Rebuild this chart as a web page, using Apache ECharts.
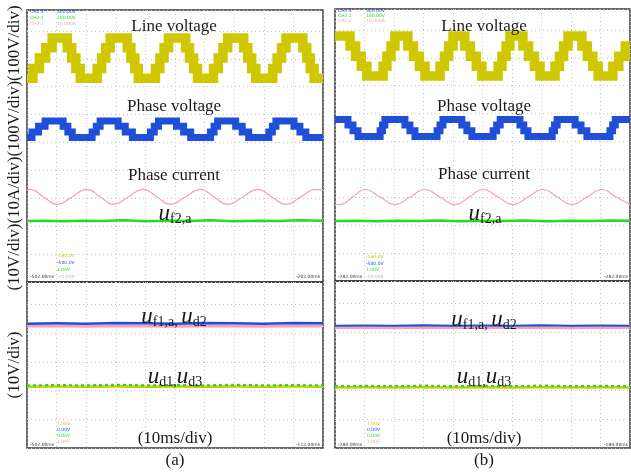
<!DOCTYPE html>
<html><head><meta charset="utf-8">
<script src="https://cdn.jsdelivr.net/npm/echarts@6/dist/echarts.min.js"></script>
<style>html,body{margin:0;padding:0;background:#fff}#c{width:631px;height:472px}</style>
</head><body><div id="c"></div>
<script>
// ---- axes (time in ms, 10 ms/div; vertical in scope divisions) ----
const timeMin = 0, timeMax = 100, timeDiv = 10;
const upperDivs = 9.75, lowerDivs = 5.78;

// ---- panel (a) traces: [time ms, divisions] ----
const lineVoltageA = [[0,7.3],[2.0,7.65],[4.2,8.03],[6.3,8.4],[8.5,8.75],[13.6,8.4],[15.1,8.03],[16.5,7.65],[18,7.3],[23.7,7.65],[25.2,8.03],[26.6,8.4],[28.1,8.75],[33.9,8.4],[35.1,8.03],[36.4,7.65],[37.6,7.3],[43.4,7.65],[44.9,8.03],[46.3,8.4],[47.8,8.75],[53.6,8.4],[54.9,8.03],[56.3,7.65],[57.6,7.3],[63,7.65],[64.6,8.03],[66.2,8.4],[67.8,8.75],[73.2,8.4],[74.6,8.03],[75.9,7.65],[77.3,7.3],[83,7.65],[84.5,8.03],[86,8.4],[87.5,8.75],[93.2,8.4],[94.5,8.03],[95.7,7.65],[97,7.3],[100,7.3]];
const phaseVoltageA = [[0,5.18],[1.7,5.38],[3.9,5.58],[6.1,5.77],[12.2,5.58],[13.8,5.38],[15.3,5.18],[22,5.38],[23.4,5.58],[24.7,5.77],[30.8,5.58],[33.2,5.38],[35.6,5.18],[41.7,5.38],[43,5.58],[44.4,5.77],[50.5,5.58],[52.9,5.38],[55.3,5.18],[62,5.38],[63.2,5.58],[64.4,5.77],[70.5,5.58],[72.7,5.38],[74.9,5.18],[81.7,5.38],[82.9,5.58],[84.1,5.77],[90.2,5.58],[92.2,5.38],[94.2,5.18],[100,5.18]];
const phaseCurrentA = [[0,3.30],[1.0,3.32],[5.6,3.05],[10.2,2.78],[15.2,3.05],[20.3,3.32],[24.8,3.05],[29.2,2.78],[34.2,3.05],[39.3,3.32],[43.9,3.05],[48.5,2.78],[53.5,3.05],[58.6,3.32],[63.2,3.05],[67.8,2.78],[72.9,3.05],[78.0,3.32],[82.7,3.05],[87.5,2.78],[92.5,3.05],[97.6,3.32],[100,3.30]];
const uf2A = [[0,2.19],[6,2.2],[12,2.18],[19,2.2],[25,2.19],[33,2.21],[40,2.18],[48,2.2],[55,2.19],[62,2.21],[70,2.18],[78,2.2],[85,2.19],[92,2.21],[100,2.2]];
const uf1A = [[0,4.33],[10,4.34],[20,4.33],[30,4.35],[40,4.34],[50,4.33],[60,4.35],[70,4.34],[80,4.33],[90,4.35],[100,4.34]];
const ud2A = [[0,4.25],[10,4.26],[20,4.24],[30,4.26],[40,4.25],[50,4.24],[60,4.26],[70,4.25],[80,4.24],[90,4.26],[100,4.25]];
const ud1A = [[0,2.18],[10,2.19],[20,2.18],[30,2.2],[40,2.18],[50,2.19],[60,2.18],[70,2.2],[80,2.18],[90,2.19],[100,2.18]];
const ud3A = [[0,2.13],[10,2.14],[20,2.13],[30,2.14],[40,2.13],[50,2.14],[60,2.13],[70,2.14],[80,2.13],[90,2.14],[100,2.13]];

// ---- panel (b) traces ----
const lineVoltageB = [[0,8.78],[5.1,8.42],[7.0,8.06],[8.9,7.7],[10.8,7.35],[16.3,7.7],[17.6,8.06],[19.0,8.42],[20.3,8.78],[24.7,8.42],[26.6,8.06],[28.6,7.7],[30.5,7.35],[35.6,7.7],[37.1,8.06],[38.5,8.42],[40,8.78],[44,8.42],[45.9,8.06],[47.9,7.7],[49.8,7.35],[55.3,7.7],[56.6,8.06],[58,8.42],[59.3,8.78],[63.7,8.42],[65.6,8.06],[67.6,7.7],[69.5,7.35],[74.6,7.7],[76.1,8.06],[77.5,8.42],[79,8.78],[83.7,8.42],[85.5,8.06],[87.4,7.7],[89.2,7.35],[94.2,7.7],[96.2,8.06],[98.4,8.42],[100,8.42]];
const phaseVoltageB = [[0,5.79],[4.4,5.59],[6.1,5.39],[7.8,5.18],[15.3,5.39],[16.1,5.59],[16.9,5.79],[23.7,5.59],[25.4,5.39],[27.1,5.18],[34.6,5.39],[35.6,5.59],[36.6,5.79],[43,5.59],[44.7,5.39],[46.4,5.18],[53.6,5.39],[54.8,5.59],[56,5.79],[62.7,5.59],[64,5.39],[65.4,5.18],[73.6,5.39],[74.4,5.59],[75.3,5.79],[81.4,5.59],[83.4,5.39],[85.4,5.18],[93.2,5.39],[94.1,5.59],[95,5.79],[100,5.79]];
const phaseCurrentB = [[0,2.76],[1.7,2.74],[6.0,3.01],[10.2,3.28],[15.3,3.01],[20.3,2.74],[25.4,3.01],[30.5,3.28],[35.6,3.01],[40.7,2.74],[45.5,3.01],[50.2,3.28],[55.3,3.01],[60.3,2.74],[65.4,3.01],[70.5,3.28],[75.4,3.01],[80.3,2.74],[85.4,3.01],[90.5,3.28],[95.3,3.01],[100,2.74]];
const uf2B = [[0,2.15],[7,2.16],[14,2.14],[21,2.16],[28,2.15],[35,2.17],[42,2.14],[50,2.16],[57,2.15],[64,2.17],[72,2.14],[80,2.16],[87,2.15],[94,2.17],[100,2.16]];
const uf1B = [[0,4.23],[10,4.24],[20,4.23],[30,4.25],[40,4.23],[50,4.24],[60,4.23],[70,4.25],[80,4.23],[90,4.24],[100,4.23]];
const ud2B = [[0,4.17],[10,4.18],[20,4.16],[30,4.18],[40,4.17],[50,4.16],[60,4.18],[70,4.17],[80,4.16],[90,4.18],[100,4.17]];
const ud1B = [[0,2.14],[10,2.15],[20,2.14],[30,2.16],[40,2.14],[50,2.15],[60,2.14],[70,2.16],[80,2.14],[90,2.15],[100,2.14]];
const ud3B = [[0,2.09],[10,2.1],[20,2.09],[30,2.1],[40,2.09],[50,2.1],[60,2.09],[70,2.1],[80,2.09],[90,2.1],[100,2.09]];

// ---- text ----
const upperAxisName = '(10V/div)(10A/div)(100V/div)(100V/div)';
const lowerAxisName = '(10V/div)';
const traceTitles = ['Line voltage', 'Phase voltage', 'Phase current'];
const timeScaleText = '(10ms/div)';
const panelNames = ['(a)', '(b)'];

// ---- styling ----
const YEL = '#cfc800', BLU = '#1f4fd8', PNK = '#f2a3b8', GRN = '#22dd22';
const SERIF = '"Liberation Serif","Times New Roman",serif';

const chart = echarts.init(document.getElementById('c'), null, {renderer: 'canvas'});

const grids = [
  {left: 27, top: 10, width: 296, height: 272},
  {left: 27, top: 282, width: 296, height: 166},
  {left: 335, top: 9, width: 295, height: 272},
  {left: 335, top: 281, width: 295, height: 167}
].map(g => Object.assign(g, {show: true, borderColor: '#3a3a3a', borderWidth: 1.5, backgroundColor: 'transparent'}));

const split = {show: true, lineStyle: {color: '#c4c4c4', type: [1, 3], width: 1}};
const xAxes = [0,1,2,3].map(i => ({gridIndex: i, type: 'value', min: timeMin, max: timeMax, interval: timeDiv,
  axisLine: {show: false}, axisTick: {show: false}, axisLabel: {show: false}, splitLine: split}));
const yAxes = [0,1,2,3].map(i => ({gridIndex: i, type: 'value', min: 0, max: (i % 2 === 0) ? upperDivs : lowerDivs, interval: 1,
  axisLine: {show: false}, axisTick: {show: false}, axisLabel: {show: false}, splitLine: split}));

function ser(g, data, color, width, opts, ls) {
  return Object.assign({type: 'line', xAxisIndex: g, yAxisIndex: g, data: data, symbol: 'none', showSymbol: false,
    silent: true, animation: false, lineStyle: Object.assign({color: color, width: width, join: 'miter', cap: 'butt'}, ls || {})}, opts || {});
}
const series = [
  ser(0, lineVoltageA, YEL, 9.5, {step: 'end'}),
  ser(0, phaseVoltageA, BLU, 7, {step: 'end'}),
  ser(0, phaseCurrentA, PNK, 1.2, {smooth: true}),
  ser(0, uf2A, GRN, 2.5),
  ser(1, ud2A, PNK, 3),
  ser(1, uf1A, BLU, 2.5),
  ser(1, ud3A, YEL, 2.5),
  ser(1, ud1A, GRN, 2.2, null, {type: [3, 3]}),
  ser(2, lineVoltageB, YEL, 9.5, {step: 'end'}),
  ser(2, phaseVoltageB, BLU, 7, {step: 'end'}),
  ser(2, phaseCurrentB, PNK, 1.2, {smooth: true}),
  ser(2, uf2B, GRN, 2.5),
  ser(3, ud2B, PNK, 3),
  ser(3, uf1B, BLU, 2),
  ser(3, ud3B, YEL, 2.5),
  ser(3, ud1B, GRN, 2.2, null, {type: [3, 3]})
];

function txt(x, y, text, size, color, extra) {
  return Object.assign({type: 'text', x: x, y: y, z: 100, silent: true,
    style: {text: text, fontSize: size, fontFamily: SERIF, fill: color || '#1a1a1a', align: 'center', verticalAlign: 'middle'}}, extra || {});
}
function sub(x, y, text) {
  return {type: 'text', x: x, y: y, z: 100, silent: true, style: {text: text, align: 'center', verticalAlign: 'middle',
    rich: {
      u: {fontSize: 23, fontFamily: SERIF, fontStyle: 'italic', fill: '#1a1a1a', lineHeight: 24, verticalAlign: 'middle'},
      s: {fontSize: 14, fontFamily: SERIF, fill: '#1a1a1a', lineHeight: 13, verticalAlign: 'bottom'}
    }}};
}
function tiny(x, y, text, color, align) {
  return {type: 'text', x: x, y: y, z: 100, silent: true,
    style: {text: text, fontSize: 4.5, fontFamily: 'DejaVu Sans', fill: color, align: align || 'left', verticalAlign: 'middle'}};
}

const graphic = [
  txt(15, 148, upperAxisName, 17, '#1a1a1a', {rotation: Math.PI / 2}),
  txt(15, 365, lowerAxisName, 17, '#1a1a1a', {rotation: Math.PI / 2}),
  // panel (a)
  txt(174, 27, traceTitles[0], 17), txt(174, 107, traceTitles[1], 17), txt(174, 176, traceTitles[2], 17),
  sub(175, 214, '{u|u}{s|f2,a}'),
  sub(174, 317, '{u|u}{s|f1,a, }{u|u}{s|d2}'),
  sub(175, 377, '{u|u}{s|d1,}{u|u}{s|d3}'),
  txt(175, 439, timeScaleText, 17), txt(175, 461, panelNames[0], 17),
  // panel (b)
  txt(484, 27, traceTitles[0], 17), txt(484, 107, traceTitles[1], 17), txt(484, 175, traceTitles[2], 17),
  sub(485, 214, '{u|u}{s|f2,a}'),
  sub(484, 320, '{u|u}{s|f1,a, }{u|u}{s|d2}'),
  sub(484, 377, '{u|u}{s|d1,}{u|u}{s|d3}'),
  txt(484, 439, timeScaleText, 17), txt(484, 461, panelNames[1], 17),
  // scope readouts (a)
  tiny(30, 12, 'CH2.3', BLU), tiny(57, 12, '500.00V', BLU),
  tiny(30, 18, 'CH2.1', GRN), tiny(57, 18, '100.00V', GRN),
  tiny(30, 24, 'CH2.2', PNK), tiny(57, 24, '10.000A', PNK),
  tiny(57, 256, '-160.0V', YEL), tiny(57, 263, '-500.0V', BLU), tiny(57, 270, '1.00V', GRN), tiny(57, 277, '-10.00A', PNK),
  tiny(30, 277, '-502.00ms', '#333'), tiny(320, 277, '-202.00ms', '#333', 'right'),
  tiny(57, 424, '1.00V', YEL), tiny(57, 430, '0.00V', BLU), tiny(57, 436, '0.00V', GRN), tiny(57, 442, '1.00V', PNK),
  tiny(30, 445, '-502.00ms', '#333'), tiny(320, 445, '-112.00ms', '#333', 'right'),
  // scope readouts (b)
  tiny(338, 11, 'CH2.3', BLU), tiny(366, 11, '500.00V', BLU),
  tiny(338, 16, 'CH2.1', GRN), tiny(366, 16, '100.00V', GRN),
  tiny(338, 21, 'CH2.2', PNK), tiny(366, 21, '10.000A', PNK),
  tiny(366, 257, '-160.0V', YEL), tiny(366, 264, '-500.0V', BLU), tiny(366, 270, '1.00V', GRN), tiny(366, 277, '-10.00A', PNK),
  tiny(338, 277, '-282.00ms', '#333'), tiny(628, 277, '-282.00ms', '#333', 'right'),
  tiny(367, 424, '1.00V', YEL), tiny(367, 430, '0.00V', BLU), tiny(367, 436, '0.00V', GRN), tiny(367, 442, '1.00V', PNK),
  tiny(338, 445, '-284.00ms', '#333'), tiny(628, 445, '-184.00ms', '#333', 'right')
];

chart.setOption({animation: false, grid: grids, xAxis: xAxes, yAxis: yAxes, series: series, graphic: graphic});
</script></body></html>
